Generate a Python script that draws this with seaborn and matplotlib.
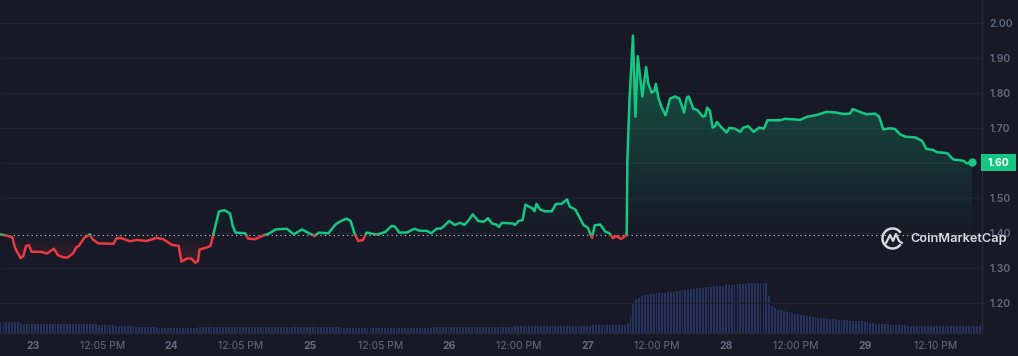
import numpy as np
import matplotlib
matplotlib.use("Agg")
import matplotlib.pyplot as plt
from matplotlib.patches import Rectangle, PathPatch, Arc
from matplotlib.path import Path
import seaborn as sns

# price line, x in days of the month
days = [22.76, 22.81, 22.85, 22.87, 22.91, 22.93, 22.95, 22.97, 22.99, 23.06, 23.10, 23.15, 23.18, 23.22, 23.25,
        23.29, 23.31, 23.33, 23.37, 23.41, 23.43, 23.47, 23.58, 23.60, 23.63, 23.70, 23.75, 23.82, 23.89, 23.94,
        24.00, 24.05, 24.07, 24.11, 24.14, 24.17, 24.19, 24.20, 24.25, 24.28, 24.30, 24.34, 24.38, 24.42, 24.44,
        24.46, 24.53, 24.55, 24.60, 24.65, 24.70, 24.75, 24.83, 24.88, 24.94, 24.99, 25.03, 25.06, 25.13, 25.18,
        25.21, 25.26, 25.29, 25.32, 25.345, 25.38, 25.405, 25.48, 25.54, 25.585, 25.61, 25.64, 25.695, 25.75, 25.79,
        25.84, 25.87, 25.91, 25.945, 26.00, 26.04, 26.08, 26.11, 26.14, 26.17, 26.21, 26.25, 26.28, 26.31, 26.34,
        26.36, 26.38, 26.46, 26.475, 26.50, 26.53, 26.55, 26.60, 26.615, 26.63, 26.655, 26.69, 26.74, 26.77, 26.81,
        26.85, 26.87, 26.91, 26.97, 27.00, 27.03, 27.05, 27.09, 27.125, 27.155, 27.18, 27.205, 27.24, 27.28, 27.285,
        27.30, 27.325, 27.343, 27.36, 27.393, 27.42, 27.436, 27.46, 27.48, 27.49, 27.51, 27.533, 27.56, 27.593, 27.63,
        27.66, 27.694, 27.713, 27.727, 27.76, 27.79, 27.83, 27.845, 27.86, 27.88, 27.90, 27.917, 27.93, 27.965, 28.00,
        28.02, 28.06, 28.10, 28.12, 28.157, 28.195, 28.235, 28.27, 28.295, 28.386, 28.42, 28.47, 28.53, 28.58, 28.65,
        28.72, 28.79, 28.84, 28.89, 28.91, 28.96, 29.01, 29.07, 29.10, 29.13, 29.18, 29.215, 29.25, 29.29, 29.36,
        29.41, 29.44, 29.49, 29.515, 29.59, 29.635, 29.71, 29.73, 29.77]
prices = [1.397, 1.393, 1.389, 1.359, 1.329, 1.335, 1.364, 1.366, 1.347, 1.347, 1.342, 1.356, 1.337, 1.331, 1.331,
          1.343, 1.359, 1.364, 1.387, 1.397, 1.383, 1.371, 1.370, 1.385, 1.387, 1.377, 1.381, 1.378, 1.387, 1.383,
          1.367, 1.364, 1.319, 1.328, 1.328, 1.316, 1.321, 1.354, 1.359, 1.364, 1.397, 1.462, 1.466, 1.457, 1.421,
          1.402, 1.400, 1.385, 1.383, 1.392, 1.399, 1.411, 1.413, 1.397, 1.411, 1.400, 1.392, 1.402, 1.400, 1.425,
          1.433, 1.442, 1.435, 1.397, 1.378, 1.381, 1.402, 1.396, 1.404, 1.421, 1.419, 1.402, 1.402, 1.413, 1.407,
          1.407, 1.400, 1.413, 1.414, 1.435, 1.424, 1.430, 1.424, 1.437, 1.454, 1.435, 1.433, 1.443, 1.428, 1.425,
          1.418, 1.430, 1.428, 1.424, 1.435, 1.438, 1.482, 1.471, 1.463, 1.484, 1.468, 1.463, 1.463, 1.484, 1.484,
          1.497, 1.476, 1.468, 1.423, 1.416, 1.387, 1.423, 1.425, 1.405, 1.400, 1.386, 1.392, 1.384, 1.395, 1.609,
          1.780, 1.965, 1.733, 1.906, 1.791, 1.875, 1.827, 1.802, 1.807, 1.827, 1.785, 1.759, 1.737, 1.785, 1.791,
          1.785, 1.745, 1.788, 1.791, 1.756, 1.752, 1.733, 1.735, 1.759, 1.750, 1.702, 1.706, 1.718, 1.702, 1.688,
          1.701, 1.699, 1.690, 1.702, 1.706, 1.690, 1.702, 1.699, 1.723, 1.723, 1.727, 1.726, 1.724, 1.733, 1.738,
          1.747, 1.745, 1.741, 1.742, 1.755, 1.747, 1.740, 1.742, 1.733, 1.697, 1.700, 1.698, 1.683, 1.676, 1.674,
          1.664, 1.641, 1.638, 1.632, 1.629, 1.611, 1.607, 1.600, 1.603]
baseline = 1.396

# volume bars, one per half hour, arbitrary units
volume = [11, 11, 11, 11, 11, 11, 11, 10, 9.5, 9, 9, 9, 9, 9, 9, 9, 9, 9, 9, 9, 9, 9, 9, 9, 9, 9, 9, 9, 9, 9, 9, 9, 9, 9,
          8.5, 8.5, 8.5, 8, 8, 8, 7.5, 7.5, 7.5, 7, 7, 7, 7, 6.5, 6.5, 6.5, 6, 6, 6, 6,
          5.5, 5.5, 5.5, 5.5, 5.5, 5.5, 5.5, 5.5, 5.5, 5.5, 5.5, 5.5, 5.5, 5.5, 5.5,
          6, 6, 6, 6, 6, 6, 6, 6, 6, 6, 6, 6, 6, 6, 6, 6, 6, 6, 6, 6, 6,
          6.5, 6.5, 6.5, 6.5, 6.5, 6.5, 6.5, 6.5, 6.5, 6.5, 6.5, 6.5, 6.5, 6.5,
          6.5, 6.5, 6.5, 6.5, 6.5, 6.5, 6.5, 6.5, 6.5, 6.5, 6.5, 6.5, 6.5, 6.5,
          5.5, 5.5, 5.5, 5.5, 5.5, 5.5, 5.5, 5.5, 5.5, 5.5, 5.5, 5.5, 5.5, 5.5, 5.5, 5.5,
          5.5, 5.5, 5.5, 5.5, 5.5, 5.5, 5.5, 5.5, 5.5, 5.5, 5.5, 5.5, 5.5, 5.5, 5.5, 5.5,
          6, 6, 6, 6, 6, 6, 6, 6, 6, 6, 6, 6,
          6.5, 6.5, 6.5, 6.5, 6.5, 6.5, 6.5, 6.5, 6.5, 6.5, 6.5, 6.5, 6.5, 6.5, 6.5, 6.5,
          6.8, 6.8, 6.8, 6.8, 6.8, 6.8, 6.8, 6.8, 6.8,
          7.3, 7.3, 7.3, 7.3, 7.3, 7.3, 7.3, 7.3, 7.3, 7.3, 7.3, 7.3, 7.3, 7.3, 7.3, 7.3, 7.3, 7.3,
          8, 8, 8, 8, 8, 8, 8, 8, 8, 8, 8, 8,
          10, 17, 30, 34, 35.5, 37, 38, 38.5, 39, 39.5, 40, 40, 40.5, 40.5, 41, 41, 41.5, 42, 42.5, 43, 43, 43.5, 44,
          44.5, 45, 45, 45.5, 46, 46, 46.5, 47, 47, 47.5, 47.5, 48, 48, 48.5, 48.5, 49, 49, 49.5, 49.5, 50, 50, 50, 50, 50, 50, 50,
          37, 27, 25, 23.5, 23, 22, 21.5, 21, 20, 19.5, 19, 18.5, 18, 17.5, 17, 16.5, 16, 15.5, 15, 15, 14.5, 14.5, 14, 14,
          13.5, 13, 13, 13, 12.5, 12.5, 12, 12, 12, 11.5, 11, 10.5, 10, 9.5, 9.5, 9.5, 9, 9, 8.5, 8.5, 8, 8, 8, 8,
          7.5, 7.5, 7.5, 7.5, 7.5, 7.5, 7.5, 7.5, 7.5, 7.5, 7.5, 7.5, 7.5, 7.5, 7.5, 7.5, 7.5, 7.5, 7.5, 7.5, 7.5, 7.5, 7.5, 7.5,
          7.5, 7.5, 7.5]

y_ticks = [1.20, 1.30, 1.40, 1.50, 1.60, 1.70, 1.80, 1.90, 2.00]
x_ticks = [23, 23.505, 24, 24.5, 25, 25.505, 26, 26.5, 27, 27.5, 28, 28.5, 29, 29.505]
x_labels = ["23", "12:05 PM", "24", "12:05 PM", "25", "12:05 PM", "26", "12:00 PM",
            "27", "12:00 PM", "28", "12:00 PM", "29", "12:10 PM"]

bg = "#171a26"
green = "#16c784"
red = "#ea3943"
grid_c = "#1f2330"
label_c = "#646a7e"
x_min, x_max = 22.762, 29.838
y_min, y_max = 1.1151, 2.0666

sns.set_theme(style="dark")
plt.rcParams["font.family"] = ["Inter", "DejaVu Sans"]

fig = plt.figure(figsize=(10.18, 3.56), dpi=100, facecolor=bg)
ax = fig.add_axes([0, 1 - 333 / 356, 981.5 / 1018, 333 / 356], facecolor=bg)
ax.set_xlim(x_min, x_max)
ax.set_ylim(y_min, y_max)

# volume goes in its own axis, 1 unit is about a pixel
ax2 = ax.twinx()
ax2.set_ylim(0, 333)
vol_days = x_min + 0.004 + np.arange(len(volume)) / 48
sns.barplot(x=vol_days, y=volume, native_scale=True, color="#27325f", saturation=1,
            width=0.65, linewidth=0, ax=ax2)
ax2.set_xlim(x_min, x_max)
ax2.set_ylim(0, 333)
ax2.axis("off")
ax2.set_zorder(1)
ax.set_zorder(2)
ax.patch.set_visible(False)
fig.patch.set_facecolor(bg)

ax.grid(axis="y", color=grid_c, linewidth=1)
ax.grid(axis="x", visible=False)
ax.set_axisbelow(True)

# gradient under the line
verts = [(days[0], baseline)] + list(zip(days, prices)) + [(days[-1], baseline), (days[0], baseline)]
area = Path(verts)
green_grad = np.zeros((256, 1, 4))
green_grad[..., :3] = matplotlib.colors.to_rgb(green)
green_grad[:, 0, 3] = np.linspace(0.38, 0, 256)
im = ax.imshow(green_grad, extent=(x_min, x_max, baseline, 1.97), aspect="auto", zorder=1)
im.set_clip_path(PathPatch(area, transform=ax.transData))
red_grad = np.zeros((256, 1, 4))
red_grad[..., :3] = matplotlib.colors.to_rgb(red)
red_grad[:, 0, 3] = np.linspace(0, 0.15, 256)
im = ax.imshow(red_grad, extent=(x_min, x_max, 1.32, baseline), aspect="auto", zorder=1)
im.set_clip_path(PathPatch(area, transform=ax.transData))
ax.set_xlim(x_min, x_max)
ax.set_ylim(y_min, y_max)

ax.axhline(baseline, color="#c8ccd6", linewidth=0.8, linestyle=(0, (1, 3)), zorder=2)

# same line twice, clipped above and below the baseline
sns.lineplot(x=days, y=prices, color=green, linewidth=1.8, sort=False, estimator=None, ax=ax, zorder=3)
ax.lines[-1].set_clip_path(Rectangle((x_min, baseline), x_max - x_min, 1, transform=ax.transData))
sns.lineplot(x=days, y=prices, color=red, linewidth=1.8, sort=False, estimator=None, ax=ax, zorder=3)
ax.lines[-1].set_clip_path(Rectangle((x_min, 1), x_max - x_min, baseline - 1, transform=ax.transData))
sns.scatterplot(x=days[-1:], y=prices[-1:], color=green, s=36, linewidth=0, ax=ax, zorder=4)

ax.set_xlabel("")
ax.set_ylabel("")
ax.yaxis.tick_right()
ax.set_yticks(y_ticks)
# 1.60 is shown by the price tag instead
ax.set_yticklabels(["" if v == 1.60 else f"{v:.2f}" for v in y_ticks], color=label_c, fontsize=7.5,
                   fontweight="semibold")
ax.set_xticks(x_ticks)
ax.set_xticklabels(x_labels, color=label_c, fontsize=7.5)
for t in ax.get_xticklabels():
    if len(t.get_text()) == 2:
        t.set_fontweight("bold")
ax.tick_params(axis="y", length=0, pad=6)
ax.tick_params(axis="x", length=3, color=grid_c, width=1, pad=3, bottom=True)
for s in ["top", "left"]:
    ax.spines[s].set_visible(False)
for s in ["right", "bottom"]:
    ax.spines[s].set_visible(True)
    ax.spines[s].set_color("#262a38")
    ax.spines[s].set_linewidth(1)

# overlay in pixels for the price tag and the logo
ov = fig.add_axes([0, 0, 1, 1], facecolor="none")
ov.set_zorder(5)
ov.set_xlim(0, 1018)
ov.set_ylim(356, 0)
ov.axis("off")
ov.add_patch(Rectangle((981, 154), 35, 17, facecolor=green, edgecolor="none"))
ov.text(998.5, 162.5, "1.60", color="white", fontsize=7.5, fontweight="bold", ha="center", va="center")

logo_c = "#d5d8df"
ov.add_patch(Arc((892.5, 238.5), 20, 20, theta1=35, theta2=325, color=logo_c, linewidth=1.8))
ov.plot([886, 890, 893, 896, 899, 902], [243, 235, 241, 234, 241, 243], color=logo_c, linewidth=1.6)
ov.text(910, 239, "CoinMarketCap", color=logo_c, fontsize=9.2, fontweight="semibold", va="center", ha="left")

fig.savefig("out.png", dpi=100, facecolor=bg)
